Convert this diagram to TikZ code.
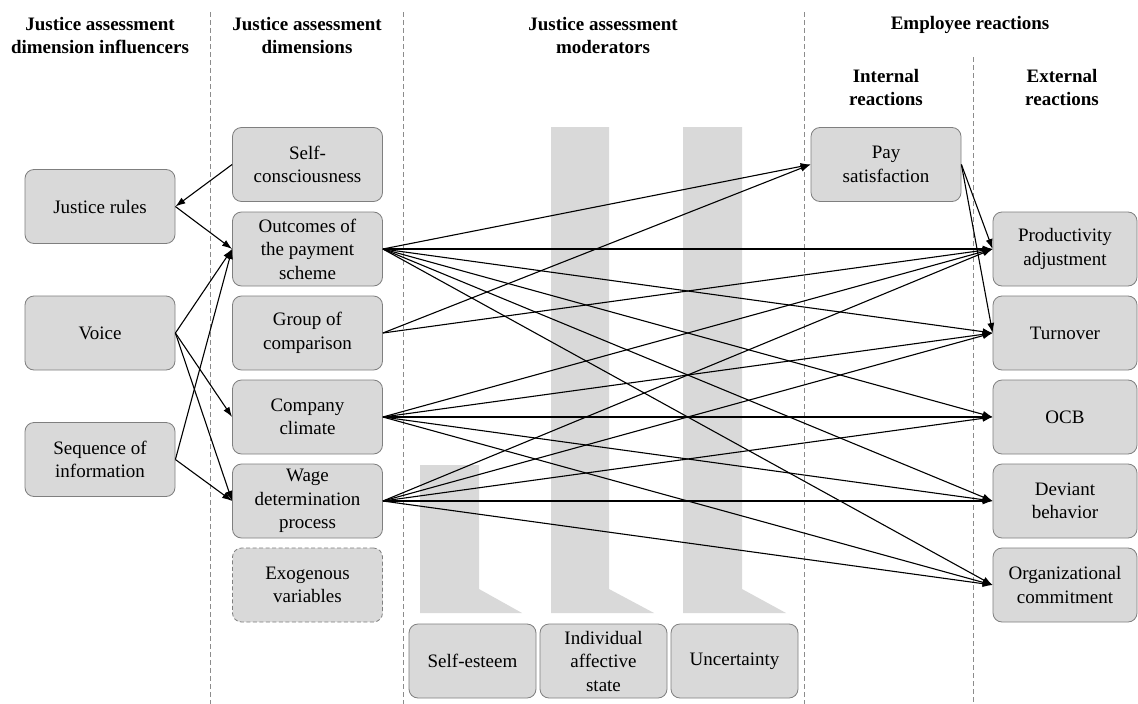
\documentclass[tikz,border=0pt]{standalone}
\usepackage{fontspec}
\setmainfont{LiberationSerif}[Extension=.ttf, UprightFont=*-Regular, BoldFont=*-Bold, ItalicFont=*-Italic, BoldItalicFont=*-BoldItalic]
\usetikzlibrary{arrows.meta}
\definecolor{boxfill}{HTML}{D9D9D9}
\definecolor{boxline}{HTML}{7F7F7F}
\definecolor{sepline}{HTML}{8C8C8C}
\begin{document}
\begin{tikzpicture}[x=1pt,y=-1pt,
  box/.style={draw=boxline, fill=boxfill, rounded corners=9pt, minimum width=150pt, minimum height=74pt, align=center, inner sep=1pt, font=\fontsize{19}{23.5}\selectfont, line width=0.8pt},
  extbox/.style={box, minimum width=144pt},
  modbox/.style={box, minimum width=127pt},
  hdr/.style={align=center, font=\fontsize{19}{23}\selectfont\bfseries},
  sep/.style={draw=sepline, dash pattern=on 5pt off 3pt, line width=0.8pt},
  arr/.style={-{Latex[length=10pt,width=7pt]}, line width=1.1pt},
  bar/.style={fill=boxfill, draw=none}]
\useasboundingbox (0,0) rectangle (1138,704);
\fill[white] (0,0) rectangle (1138,704);

% separators
\draw[sep] (210,12) -- (210,704);
\draw[sep] (403,12) -- (403,704);
\draw[sep] (804,12) -- (804,704);
\draw[sep] (973,57) -- (973,704);

% headers
\node[hdr] (h1) at (100,36) {Justice assessment\\dimension influencers};
\node[hdr] (h2) at (307,36) {Justice assessment\\dimensions};
\node[hdr] (h3) at (603,36) {Justice assessment\\moderators};
\node[hdr] (h4) at (970,25) {Employee reactions};
\node[hdr] (h5) at (886,87) {Internal\\reactions};
\node[hdr] (h6) at (1062,87) {External\\reactions};

% moderator bars
\fill[bar] (420,465) -- (479,465) -- (479,589) -- (522,613) -- (420,613) -- cycle;
\fill[bar] (551,127) -- (609,127) -- (609,589) -- (654,613) -- (551,613) -- cycle;
\fill[bar] (683,127) -- (742,127) -- (742,589) -- (786,613) -- (683,613) -- cycle;

% influencers
\node[box] (jr) at (100,206.5) {Justice rules};
\node[box] (vo) at (100,333) {Voice};
\node[box] (sq) at (100,459.5) {Sequence of\\information};

% dimensions
\node[box] (sc) at (307.5,164.5) {Self-\\consciousness};
\node[box] (oc) at (307.5,249) {Outcomes of\\the payment\\scheme};
\node[box] (gc) at (307.5,333) {Group of\\comparison};
\node[box] (cc) at (307.5,417) {Company\\climate};
\node[box] (wd) at (307.5,501) {Wage\\determination\\process};
\node[box, dashed, dash pattern=on 4pt off 2.5pt] (ex) at (307.5,585) {Exogenous\\variables};

% moderators
\node[modbox] (se) at (472.5,661) {Self-esteem};
\node[modbox] (ia) at (603.5,661) {Individual\\affective\\state};
\node[modbox] (un) at (734.5,661) {Uncertainty};

% reactions
\node[box] (ps) at (886,164.5) {Pay\\satisfaction};
\node[extbox] (pa) at (1065,249) {Productivity\\adjustment};
\node[extbox] (tu) at (1065,333) {Turnover};
\node[extbox] (ob) at (1065,417) {OCB};
\node[extbox] (db) at (1065,501) {Deviant\\behavior};
\node[extbox] (co) at (1065,585) {Organizational\\commitment};

% left connectors
\draw[arr] (sc.west) -- (jr.east);
\draw[arr] (jr.east) -- (oc.west);
\draw[arr] (vo.east) -- (oc.west);
\draw[arr] (vo.east) -- (cc.west);
\draw[arr] (vo.east) -- (wd.west);
\draw[arr] (sq.east) -- (oc.west);
\draw[arr] (sq.east) -- (wd.west);

% outcomes
\foreach \t in {ps,pa,tu,ob,db,co} \draw[arr] (oc.east) -- (\t.west);
% group
\foreach \t in {ps,pa} \draw[arr] (gc.east) -- (\t.west);
% company climate
\foreach \t in {pa,tu,ob,db,co} \draw[arr] (cc.east) -- (\t.west);
% wage determination
\foreach \t in {pa,tu,ob,db,co} \draw[arr] (wd.east) -- (\t.west);
% pay satisfaction
\draw[arr] (ps.east) -- (pa.west);
\draw[arr] (ps.east) -- (tu.west);
\end{tikzpicture}
\end{document}
